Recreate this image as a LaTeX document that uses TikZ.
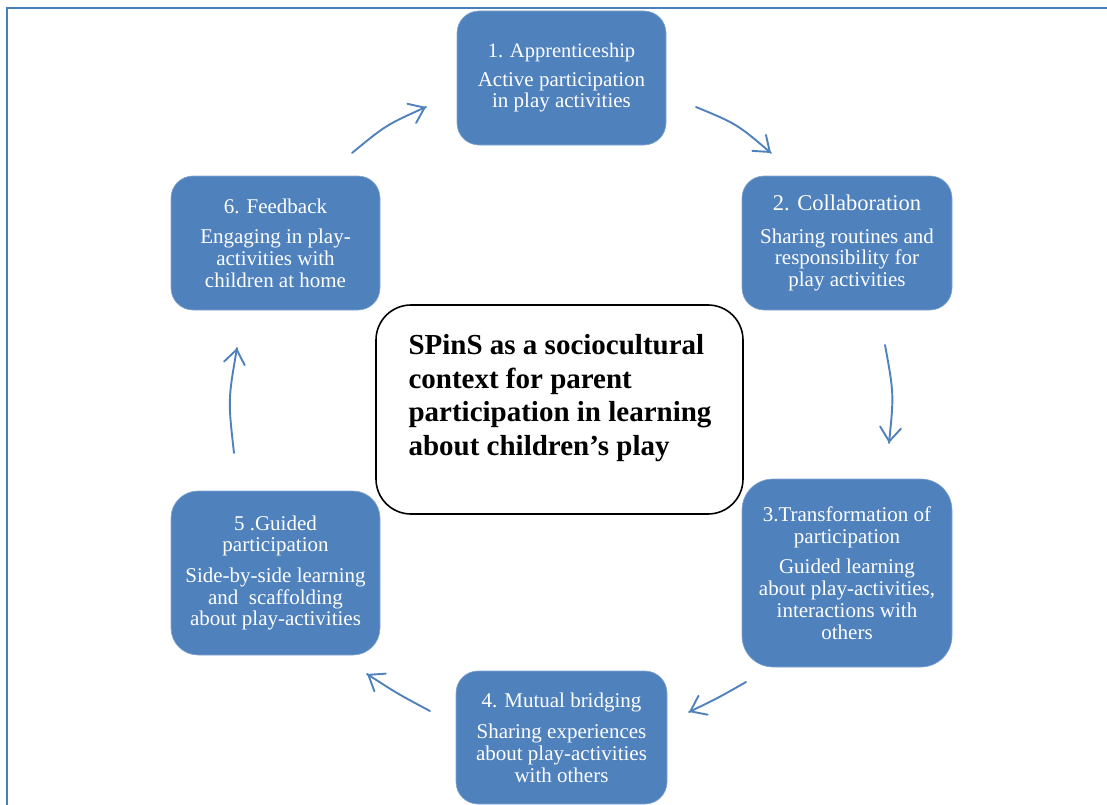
\documentclass[tikz,border=0pt]{standalone}
\usepackage{fontspec}
\setmainfont{Liberation Serif}
\usetikzlibrary{arrows.meta,decorations.markings}
\definecolor{boxblue}{HTML}{4F81BD}
\definecolor{framecol}{HTML}{4A7EBB}
\begin{document}
\begin{tikzpicture}[x=1bp,y=-1bp,
  stage/.style={rectangle, fill=boxblue, draw=boxblue!70!white, line width=0.6bp,
    text=white, align=center, inner sep=0pt,
    font=\fontsize{21bp}{21.7bp}\selectfont},
  corebox/.style={rectangle, draw=black, line width=1.6bp, fill=white,
    minimum width=367bp, minimum height=209bp, rounded corners=35bp},
  coretext/.style={align=left, inner sep=0pt, text=black,
    font=\fontsize{29bp}{33.8bp}\selectfont\bfseries},
  flow/.style={draw=boxblue, line width=1.9bp, line cap=round,
    postaction={decorate},
    decoration={markings, mark=at position 1 with
      {\arrow[boxblue, line width=1.9bp]{Straight Barb[length=14bp,width=21bp,line cap=round]}}}},
]
\useasboundingbox (0,0) rectangle (1107,805);
\draw[framecol, line width=1.5bp] (7,805) -- (7,8) -- (1107,8);

% stages
\node[stage, minimum width=209bp, minimum height=134bp, rounded corners=22bp] (s1) at (561.5,78)
  {{\fontsize{20.5bp}{21.7bp}\selectfont 1. Apprenticeship}\\[6.5bp]
   Active participation\\in play activities};
\node[stage, minimum width=210bp, minimum height=134bp, rounded corners=22bp] (s2) at (847,243)
  {{\fontsize{22.5bp}{21.7bp}\selectfont 2. Collaboration}\\[11bp]
   Sharing routines and\\responsibility for\\play activities};
\node[stage, minimum width=210bp, minimum height=188bp, rounded corners=31bp] (s3) at (847,573)
  {3.Transformation of\\participation\\[9bp]
   Guided learning\\about play-activities,\\interactions with\\others};
\node[stage, minimum width=211bp, minimum height=133bp, rounded corners=22bp] (s4) at (561.5,737.5)
  {4. Mutual bridging\\[10bp]
   Sharing experiences\\about play-activities\\with others};
\node[stage, minimum width=209bp, minimum height=164bp, rounded corners=27bp] (s5) at (275.5,573)
  {5 .Guided\\participation\\[9bp]
   Side-by-side learning\\and\ \ scaffolding\\about play-activities};
\node[stage, minimum width=209bp, minimum height=134bp, rounded corners=22bp] (s6) at (275.5,243)
  {6. Feedback\\[9bp]
   Engaging in play-\\activities with\\children at home};

% centre
\node[corebox] (core) at (559.5,409.5) {};
\node[coretext] (corelabel) at (560,398)
  {SPinS as a sociocultural\\context for parent\\participation in learning\\about children’s play};

% connector ends
\coordinate (a61s) at (352,153); \coordinate (a61e) at (426,107);
\coordinate (a12s) at (696,107); \coordinate (a12e) at (771,153);
\coordinate (a23s) at (885,345); \coordinate (a23e) at (889,443);
\coordinate (a34s) at (746,682); \coordinate (a34e) at (689,712);
\coordinate (a45s) at (430,711); \coordinate (a45e) at (367,674);
\coordinate (a56s) at (234,453); \coordinate (a56e) at (237,348);

\draw[flow] (a61s) .. controls (386,125) .. (a61e);
\draw[flow] (a12s) .. controls (737,124) .. (a12e);
\draw[flow] (a23s) .. controls (894,394) .. (a23e);
\draw[flow] (a34s) .. controls (718,698) .. (a34e);
\draw[flow] (a45s) .. controls (398,694) .. (a45e);
\draw[flow] (a56s) .. controls (228,400) .. (a56e);
\end{tikzpicture}
\end{document}
